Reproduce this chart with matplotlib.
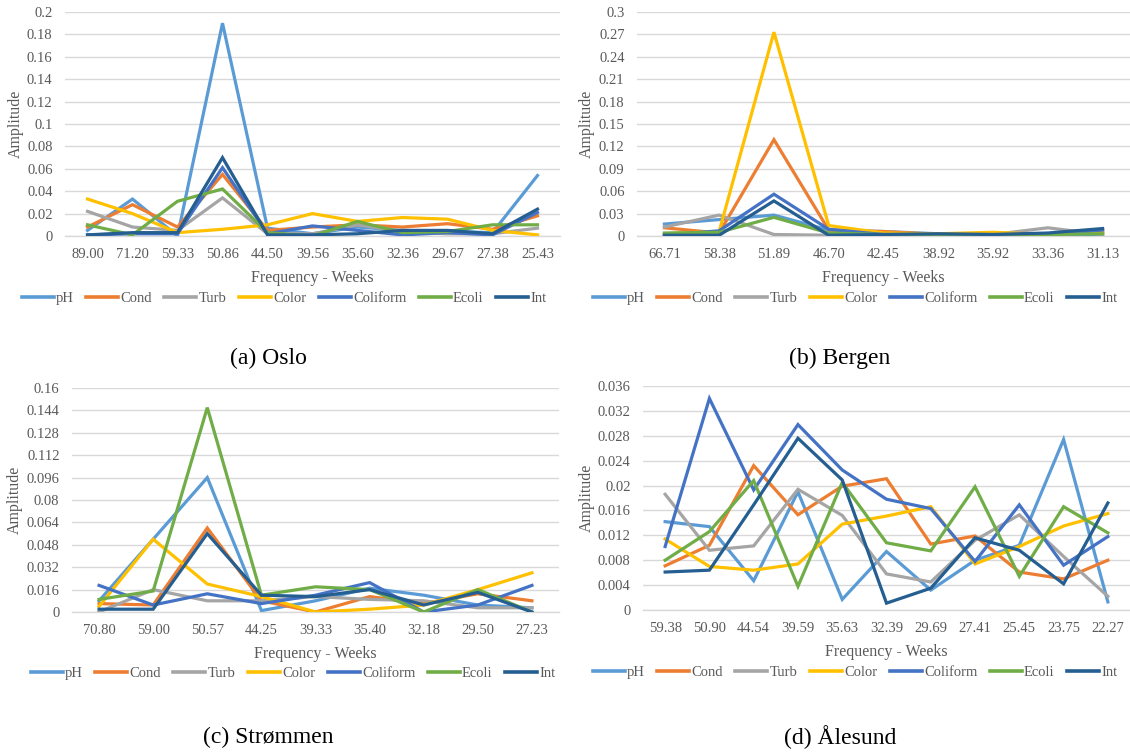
import matplotlib
matplotlib.use("Agg")
import matplotlib.pyplot as plt
from matplotlib.ticker import FuncFormatter, MultipleLocator
from matplotlib.lines import Line2D

# Series names and colours
series = ["pH", "Cond", "Turb", "Color", "Coliform", "Ecoli", "Int"]
colors = ["#5B9BD5", "#ED7D31", "#A5A5A5", "#FFC000", "#4472C4", "#70AD47", "#255E91"]

# (a) Oslo
oslo_weeks = ["89.00", "71.20", "59.33", "50.86", "44.50", "39.56", "35.60", "32.36", "29.67", "27.38", "25.43"]
oslo_ph = [0.005, 0.033, 0.000, 0.190, 0.007, 0.002, 0.008, 0.005, 0.004, 0.003, 0.054]
oslo_cond = [0.008, 0.028, 0.008, 0.055, 0.005, 0.008, 0.010, 0.008, 0.011, 0.006, 0.018]
oslo_turb = [0.022, 0.008, 0.005, 0.034, 0.002, 0.002, 0.010, 0.004, 0.002, 0.002, 0.007]
oslo_color = [0.033, 0.020, 0.003, 0.006, 0.010, 0.020, 0.013, 0.0165, 0.015, 0.005, 0.001]
oslo_coliform = [0.001, 0.002, 0.002, 0.061, 0.002, 0.009, 0.005, 0.001, 0.003, 0.001, 0.021]
oslo_ecoli = [0.010, 0.001, 0.031, 0.042, 0.003, 0.000, 0.013, 0.003, 0.004, 0.010, 0.010]
oslo_int = [0.001, 0.003, 0.003, 0.070, 0.001, 0.001, 0.002, 0.005, 0.005, 0.002, 0.024]

# (b) Bergen
bergen_weeks = ["66.71", "58.38", "51.89", "46.70", "42.45", "38.92", "35.92", "33.36", "31.13"]
bergen_ph = [0.016, 0.022, 0.028, 0.008, 0.006, 0.003, 0.002, 0.002, 0.002]
bergen_cond = [0.011, 0.004, 0.129, 0.008, 0.006, 0.002, 0.003, 0.002, 0.006]
bergen_turb = [0.012, 0.028, 0.002, 0.001, 0.001, 0.001, 0.002, 0.011, 0.002]
bergen_color = [0.003, 0.006, 0.273, 0.014, 0.004, 0.003, 0.005, 0.002, 0.005]
bergen_coliform = [0.001, 0.007, 0.056, 0.009, 0.002, 0.002, 0.002, 0.002, 0.008]
bergen_ecoli = [0.004, 0.005, 0.025, 0.004, 0.002, 0.001, 0.001, 0.002, 0.003]
bergen_int = [0.001, 0.001, 0.047, 0.001, 0.002, 0.003, 0.002, 0.004, 0.010]

# (c) Strømmen
strommen_weeks = ["70.80", "59.00", "50.57", "44.25", "39.33", "35.40", "32.18", "29.50", "27.23"]
strommen_ph = [0.008, 0.052, 0.096, 0.001, 0.008, 0.017, 0.012, 0.005, 0.003]
strommen_cond = [0.006, 0.005, 0.060, 0.008, 0.000, 0.011, 0.006, 0.013, 0.008]
strommen_turb = [0.000, 0.016, 0.008, 0.008, 0.011, 0.009, 0.008, 0.003, 0.003]
strommen_color = [0.004, 0.052, 0.020, 0.011, 0.000, 0.002, 0.005, 0.016, 0.028]
strommen_coliform = [0.019, 0.005, 0.013, 0.006, 0.012, 0.021, 0.000, 0.005, 0.019]
strommen_ecoli = [0.009, 0.015, 0.146, 0.012, 0.018, 0.016, 0.000, 0.016, 0.000]
strommen_int = [0.002, 0.002, 0.056, 0.012, 0.011, 0.016, 0.005, 0.014, 0.000]

# (d) Ålesund
alesund_weeks = ["59.38", "50.90", "44.54", "39.59", "35.63", "32.39", "29.69", "27.41", "25.45", "23.75", "22.27"]
alesund_ph = [0.0142, 0.0134, 0.0047, 0.0190, 0.0017, 0.0094, 0.0032, 0.0080, 0.0104, 0.0274, 0.0013]
alesund_cond = [0.0071, 0.0104, 0.0232, 0.0153, 0.0199, 0.0211, 0.0106, 0.0119, 0.0061, 0.0050, 0.0080]
alesund_turb = [0.0186, 0.0096, 0.0103, 0.0194, 0.0152, 0.0058, 0.0045, 0.0112, 0.0153, 0.0086, 0.0022]
alesund_color = [0.0114, 0.0070, 0.0064, 0.0074, 0.0138, 0.0151, 0.0166, 0.0074, 0.0102, 0.0135, 0.0155]
alesund_coliform = [0.0102, 0.0340, 0.0193, 0.0298, 0.0225, 0.0178, 0.0163, 0.0078, 0.0169, 0.0072, 0.0118]
alesund_ecoli = [0.0080, 0.0126, 0.0208, 0.0038, 0.0205, 0.0108, 0.0095, 0.0198, 0.0054, 0.0166, 0.0124]
alesund_int = [0.0061, 0.0064, 0.0169, 0.0276, 0.0209, 0.0011, 0.0035, 0.0116, 0.0096, 0.0042, 0.0172]

TEXT = "#595959"
GRID = "#D9D9D9"
SERIF = ["Liberation Serif", "DejaVu Serif"]

plt.rcParams["font.family"] = SERIF

fig = plt.figure(figsize=(11.30, 7.53), dpi=100)
W, H = 1130.0, 753.0


def fx(px):
    return px / W


def fy(py):
    return 1.0 - py / H


panels = [
    dict(weeks=oslo_weeks,
         data=[oslo_ph, oslo_cond, oslo_turb, oslo_color, oslo_coliform, oslo_ecoli, oslo_int],
         box=(65, 560, 12, 236), ymax=0.2, step=0.02, ylab=16,
         legend=(284, 298), caption="(a) Oslo", cap=(268, 358)),
    dict(weeks=bergen_weeks,
         data=[bergen_ph, bergen_cond, bergen_turb, bergen_color, bergen_coliform, bergen_ecoli, bergen_int],
         box=(637, 1130, 12, 236), ymax=0.3, step=0.03, ylab=587,
         legend=(855, 298), caption="(b) Bergen", cap=(840, 358)),
    dict(weeks=strommen_weeks,
         data=[strommen_ph, strommen_cond, strommen_turb, strommen_color, strommen_coliform, strommen_ecoli, strommen_int],
         box=(72, 559, 388, 612), ymax=0.16, step=0.016, ylab=15,
         legend=(293, 673), caption="(c) Strømmen", cap=(268, 737)),
    dict(weeks=alesund_weeks,
         data=[alesund_ph, alesund_cond, alesund_turb, alesund_color, alesund_coliform, alesund_ecoli, alesund_int],
         box=(643, 1130, 386, 610), ymax=0.036, step=0.004, ylab=587,
         legend=(855, 672), caption="(d) Ålesund", cap=(840, 737)),
]

fmt = FuncFormatter(lambda v, _: ("%.3f" % v).rstrip("0").rstrip(".") if abs(v) > 1e-12 else "0")

for p in panels:
    x0, x1, yt, yb = p["box"]
    ax = fig.add_axes([fx(x0), fy(yb), fx(x1) - fx(x0), fy(yt) - fy(yb)])
    n = len(p["weeks"])
    xs = list(range(n))
    for vals, name, c in zip(p["data"], series, colors):
        ax.plot(xs, vals, color=c, lw=2.3, label=name, solid_joinstyle="miter", zorder=3)
    ax.set_xlim(-0.5, n - 0.5)
    ax.set_ylim(0, p["ymax"])
    ax.yaxis.set_major_locator(MultipleLocator(p["step"]))
    ax.yaxis.set_major_formatter(fmt)
    ax.set_xticks(xs)
    ax.set_xticklabels(p["weeks"])
    ax.grid(axis="y", color=GRID, lw=1.0, zorder=0)
    ax.set_axisbelow(True)
    for s in ["top", "right", "left"]:
        ax.spines[s].set_visible(False)
    ax.spines["bottom"].set_color(GRID)
    ax.spines["bottom"].set_linewidth(1.0)
    ax.tick_params(axis="both", length=0, labelsize=10.5, colors=TEXT)
    ax.tick_params(axis="x", pad=9)
    ax.tick_params(axis="y", pad=9)
    ax.set_xlabel("Frequency - Weeks", fontsize=11.5, color=TEXT, labelpad=6)

    # y-axis title placed by its centre
    fig.text(fx(p["ylab"]), (fy(yb) + fy(yt)) / 2, "Amplitude", rotation=90, ha="center",
             va="center", fontsize=11.5, color=TEXT, family=SERIF)

    handles = [Line2D([0], [0], color=c, lw=2.6) for c in colors]
    fig.legend(handles, series, loc="center", bbox_to_anchor=(fx(p["legend"][0]), fy(p["legend"][1])),
               ncol=7, frameon=False, fontsize=10.5, handlelength=2.2, handletextpad=0.15,
               columnspacing=0.85, labelcolor=TEXT, borderaxespad=0, borderpad=0)

    fig.text(fx(p["cap"][0]), fy(p["cap"][1]), p["caption"], ha="center", va="center",
             fontsize=17, color="black", family=SERIF)

fig.savefig("out.png", dpi=100)
